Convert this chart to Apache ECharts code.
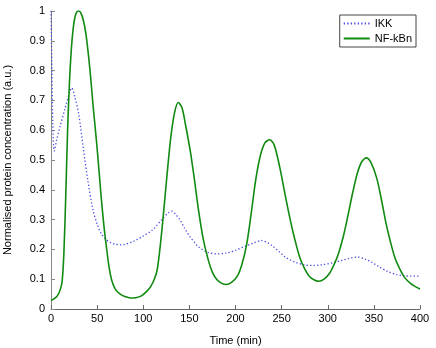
<!DOCTYPE html>
<html>
<head>
<meta charset="utf-8">
<script src="https://cdn.jsdelivr.net/npm/echarts@6/dist/echarts.min.js"></script>
<style>
  html, body { margin: 0; padding: 0; background: #fff; }
  #chart { width: 436px; height: 348px; }
</style>
</head>
<body>
<div id="chart"></div>
<script>
// IKK (dotted blue)
const ikkTime = [0, 1, 2, 3.5, 6, 10, 15, 20, 22.5, 26, 30, 35, 40, 45, 50, 55, 60, 65, 70, 75, 80, 90, 100, 110, 120, 127, 131, 135, 140, 145, 150, 155, 160, 170, 180, 190, 200, 210, 220, 228, 235, 240, 247, 255, 265, 275, 285, 295, 305, 315, 325, 333, 340, 347, 355, 365, 375, 382, 390, 400]
const ikkValue = [1.0, 0.8, 0.62, 0.53, 0.565, 0.615, 0.67, 0.725, 0.742, 0.71, 0.655, 0.54, 0.43, 0.34, 0.285, 0.25, 0.232, 0.222, 0.217, 0.215, 0.217, 0.228, 0.245, 0.265, 0.3, 0.322, 0.328, 0.318, 0.298, 0.27, 0.245, 0.225, 0.208, 0.19, 0.185, 0.188, 0.197, 0.21, 0.222, 0.23, 0.222, 0.212, 0.193, 0.172, 0.157, 0.148, 0.146, 0.149, 0.155, 0.163, 0.171, 0.174, 0.168, 0.158, 0.143, 0.126, 0.115, 0.112, 0.11, 0.11]

// NF-kBn (solid green)
const nfTime = [0, 5, 8, 10, 12, 14, 16, 18, 20, 22, 24, 26, 28, 30, 32, 35, 38, 42, 46, 50, 54, 57, 60, 63, 66, 70, 75, 80, 86, 92, 98, 104, 108, 112, 115, 118, 121, 124, 127, 130, 134, 138, 142, 146, 151, 155, 160, 165, 170, 175, 180, 185, 190, 196, 202, 207, 212, 217, 222, 227, 232, 237, 242, 248, 254, 260, 265, 270, 275, 280, 285, 290, 296, 302, 307, 312, 317, 322, 327, 332, 337, 342, 347, 353, 358, 363, 368, 373, 378, 383, 390, 395, 400]
const nfValue = [0.028, 0.038, 0.05, 0.065, 0.09, 0.19, 0.38, 0.6, 0.76, 0.87, 0.94, 0.98, 0.997, 1.0, 0.995, 0.97, 0.92, 0.81, 0.67, 0.54, 0.39, 0.29, 0.21, 0.14, 0.095, 0.065, 0.05, 0.042, 0.037, 0.038, 0.044, 0.06, 0.075, 0.1, 0.13, 0.2, 0.29, 0.39, 0.49, 0.58, 0.66, 0.693, 0.675, 0.615, 0.53, 0.445, 0.33, 0.235, 0.17, 0.123, 0.098, 0.086, 0.082, 0.09, 0.11, 0.15, 0.215, 0.32, 0.435, 0.515, 0.558, 0.568, 0.55, 0.475, 0.38, 0.29, 0.225, 0.17, 0.135, 0.11, 0.098, 0.093, 0.1, 0.12, 0.15, 0.19, 0.245, 0.315, 0.39, 0.455, 0.495, 0.507, 0.49, 0.44, 0.37, 0.29, 0.225, 0.17, 0.135, 0.107, 0.085, 0.075, 0.067]

const xTicks = { min: 0, max: 400, step: 50 }
const yTicks = { min: 0, max: 1, step: 0.1 }

const chart = echarts.init(document.getElementById('chart'))
const font = 'Liberation Sans, Arial, sans-serif'

const ikkData = ikkTime.map((t, i) => [t, ikkValue[i]])
const nfData = nfTime.map((t, i) => [t, nfValue[i]])

chart.setOption({
  animation: false,
  backgroundColor: '#fff',
  grid: { left: 51, right: 16, top: 11, bottom: 39, outerBoundsMode: 'none' },
  legend: {
    right: 20,
    top: 15,
    orient: 'vertical',
    itemWidth: 26,
    itemHeight: 10,
    itemGap: 4,
    padding: [3, 4, 3, 3],
    backgroundColor: '#fff',
    borderColor: '#444',
    borderWidth: 1,
    borderRadius: 0,
    itemStyle: { opacity: 0 },
    textStyle: { fontFamily: font, fontSize: 11, color: '#000' },
    data: ['IKK', 'NF-kBn']
  },
  xAxis: {
    type: 'value',
    min: xTicks.min,
    max: xTicks.max,
    interval: xTicks.step,
    name: 'Time (min)',
    nameLocation: 'middle',
    nameGap: 26,
    nameTextStyle: { fontFamily: font, fontSize: 11, color: '#000' },
    axisLine: { lineStyle: { color: '#666', width: 1 } },
    axisTick: { inside: true, length: 4, lineStyle: { color: '#666' } },
    axisLabel: { fontFamily: font, fontSize: 11, color: '#000', margin: 4 },
    splitLine: { show: false }
  },
  yAxis: {
    type: 'value',
    min: yTicks.min,
    max: yTicks.max,
    interval: yTicks.step,
    name: 'Normalised protein concentration (a.u.)',
    nameLocation: 'middle',
    nameGap: 38,
    nameTextStyle: { fontFamily: font, fontSize: 11, color: '#000' },
    axisLine: { lineStyle: { color: '#888', width: 1 } },
    axisTick: { inside: true, length: 4, lineStyle: { color: '#888' } },
    axisLabel: { fontFamily: font, fontSize: 11, color: '#000', margin: 6 },
    splitLine: { show: false }
  },
  series: [
    {
      name: 'IKK',
      type: 'line',
      data: ikkData,
      smooth: 0.3,
      symbol: 'none',
      lineStyle: { color: '#4a4ae6', width: 1.3, type: [1.3, 2.2] },
      itemStyle: { color: '#4a4ae6' }
    },
    {
      name: 'NF-kBn',
      type: 'line',
      data: nfData,
      smooth: 0.3,
      symbol: 'none',
      lineStyle: { color: '#118a11', width: 1.6 },
      itemStyle: { color: '#118a11' }
    }
  ]
})
</script>
</body>
</html>
